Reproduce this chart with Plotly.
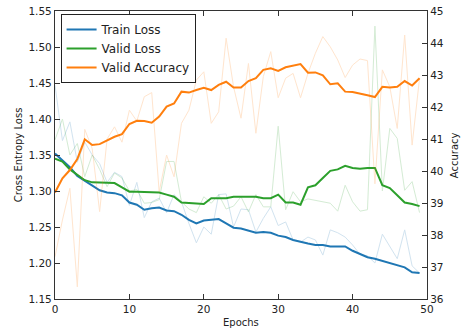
import plotly.graph_objects as go

epochs = list(range(50))

train_loss_smooth = [1.352, 1.343, 1.333, 1.321, 1.314, 1.308, 1.301, 1.298, 1.297, 1.294,
                     1.284, 1.281, 1.274, 1.276, 1.277, 1.273, 1.272, 1.267, 1.260, 1.255,
                     1.259, 1.260, 1.261, 1.255, 1.249, 1.248, 1.245, 1.242, 1.243, 1.242,
                     1.238, 1.236, 1.232, 1.229, 1.227, 1.225, 1.225, 1.223, 1.223, 1.223,
                     1.217, 1.212, 1.208, 1.206, 1.203, 1.199, 1.196, 1.194, 1.187, 1.186]

valid_loss_smooth = [1.345, 1.341, 1.330, 1.322, 1.315, 1.312, 1.312, 1.311, 1.311, 1.305,
                     1.299, 1.299, 1.299, 1.299, 1.298, 1.295, 1.292, 1.284, 1.283, 1.282,
                     1.282, 1.290, 1.290, 1.290, 1.292, 1.292, 1.291, 1.292, 1.290, 1.290,
                     1.295, 1.284, 1.284, 1.281, 1.305, 1.308, 1.318, 1.328, 1.330, 1.335,
                     1.332, 1.331, 1.332, 1.332, 1.308, 1.304, 1.294, 1.284, 1.282, 1.279]

valid_acc_smooth = [39.33, 39.77, 40.03, 40.37, 40.99, 40.81, 40.84, 40.95, 41.07, 41.15,
                    41.47, 41.57, 41.56, 41.51, 41.70, 42.01, 42.11, 42.48, 42.45, 42.53,
                    42.60, 42.53, 42.69, 42.79, 42.61, 42.61, 42.81, 42.90, 43.16, 43.21,
                    43.13, 43.24, 43.30, 43.34, 43.07, 43.08, 42.99, 42.71, 42.74, 42.48,
                    42.47, 42.43, 42.37, 42.31, 42.63, 42.61, 42.63, 42.81, 42.67, 42.90]

train_loss_raw = [1.447, 1.370, 1.396, 1.340, 1.368, 1.350, 1.338, 1.312, 1.326, 1.320,
                  1.280, 1.312, 1.263, 1.285, 1.290, 1.270, 1.295, 1.285, 1.255, 1.228,
                  1.250, 1.240, 1.295, 1.296, 1.250, 1.275, 1.274, 1.243, 1.262, 1.278,
                  1.252, 1.257, 1.232, 1.229, 1.236, 1.232, 1.211, 1.246, 1.242, 1.236,
                  1.225, 1.212, 1.210, 1.200, 1.240, 1.222, 1.206, 1.246, 1.196, 1.186]

valid_loss_raw = [1.371, 1.400, 1.350, 1.366, 1.320, 1.350, 1.330, 1.306, 1.325, 1.318,
                  1.300, 1.302, 1.283, 1.284, 1.288, 1.341, 1.341, 1.285, 1.275, 1.270,
                  1.292, 1.283, 1.295, 1.275, 1.279, 1.292, 1.271, 1.295, 1.278, 1.278,
                  1.390, 1.274, 1.299, 1.285, 1.289, 1.287, 1.285, 1.283, 1.272, 1.308,
                  1.285, 1.272, 1.274, 1.529, 1.300, 1.387, 1.373, 1.301, 1.313, 1.270]

valid_acc_raw = [37.32, 38.47, 39.46, 36.38, 41.30, 40.70, 38.73, 41.00, 41.38, 40.90,
                 41.90, 41.56, 42.32, 42.45, 39.35, 40.50, 39.82, 41.49, 41.90, 42.84,
                 43.10, 41.49, 41.85, 44.15, 42.63, 41.65, 43.36, 41.18, 42.95, 43.73,
                 42.29, 42.90, 43.05, 42.29, 43.05, 43.68, 44.20, 43.88, 43.47, 42.92,
                 43.31, 43.50, 43.45, 39.60, 43.16, 42.63, 41.33, 44.25, 40.81, 42.90]

x_title = "Epochs"
y_title = "Cross Entropy Loss"
y2_title = "Accuracy"

BLUE = "#1f77b4"
GREEN = "#2ca02c"
ORANGE = "#ff7f0e"
FONT = "DejaVu Sans"

fig = go.Figure()
fig.add_trace(go.Scatter(x=epochs, y=train_loss_raw, mode="lines", line=dict(color=BLUE, width=1),
                         opacity=0.2, showlegend=False, hoverinfo="skip"))
fig.add_trace(go.Scatter(x=epochs, y=valid_loss_raw, mode="lines", line=dict(color=GREEN, width=1),
                         opacity=0.2, showlegend=False, hoverinfo="skip"))
fig.add_trace(go.Scatter(x=epochs, y=valid_acc_raw, mode="lines", line=dict(color=ORANGE, width=1),
                         opacity=0.2, showlegend=False, hoverinfo="skip", yaxis="y2"))
fig.add_trace(go.Scatter(x=epochs, y=train_loss_smooth, mode="lines", name="Train Loss",
                         line=dict(color=BLUE, width=2)))
fig.add_trace(go.Scatter(x=epochs, y=valid_loss_smooth, mode="lines", name="Valid Loss",
                         line=dict(color=GREEN, width=2)))
fig.add_trace(go.Scatter(x=epochs, y=valid_acc_smooth, mode="lines", name="Valid Accuracy",
                         line=dict(color=ORANGE, width=2), yaxis="y2"))

axis_common = dict(showgrid=False, zeroline=False, showline=True, linecolor="#333333", linewidth=1.2,
                   ticks="inside", ticklen=5, tickcolor="#333333", automargin=False,
                   tickfont=dict(family=FONT, size=10.5, color="#222222"))

title_font = dict(family=FONT, size=10, color="#222222")

fig.update_layout(
    width=461, height=330, autosize=False,
    margin=dict(l=55, r=34, t=11, b=31),
    paper_bgcolor="white", plot_bgcolor="white",
    font=dict(family=FONT, color="#222222"),
    xaxis=dict(range=[0, 50], tickvals=[0, 10, 20, 30, 40, 50], mirror="ticks", **axis_common),
    yaxis=dict(range=[1.15, 1.55], tickvals=[1.15, 1.20, 1.25, 1.30, 1.35, 1.40, 1.45, 1.50, 1.55],
               tickformat=".2f", **axis_common),
    yaxis2=dict(range=[36, 45], tickvals=list(range(36, 46)), overlaying="y", side="right",
                **axis_common),
    legend=dict(x=0.015, y=0.99, xanchor="left", yanchor="top",
                bgcolor="white", bordercolor="#222222", borderwidth=1,
                font=dict(family=FONT, size=12, color="#222222"),
                tracegroupgap=0, itemwidth=30),
    annotations=[
        dict(text=x_title, xref="paper", yref="paper", x=0.5, y=-0.082,
             xanchor="center", yanchor="middle", showarrow=False, font=title_font),
        dict(text=y_title, xref="paper", yref="paper", x=-0.099, y=0.5, textangle=-90,
             xanchor="center", yanchor="middle", showarrow=False, font=title_font),
        dict(text=y2_title, xref="paper", yref="paper", x=1.073, y=0.5, textangle=-90,
             xanchor="center", yanchor="middle", showarrow=False, font=title_font),
    ],
)

fig.write_html("out.html", config={"displayModeBar": False},
               post_script="document.body.style.margin='0px';document.body.style.padding='0px';")
